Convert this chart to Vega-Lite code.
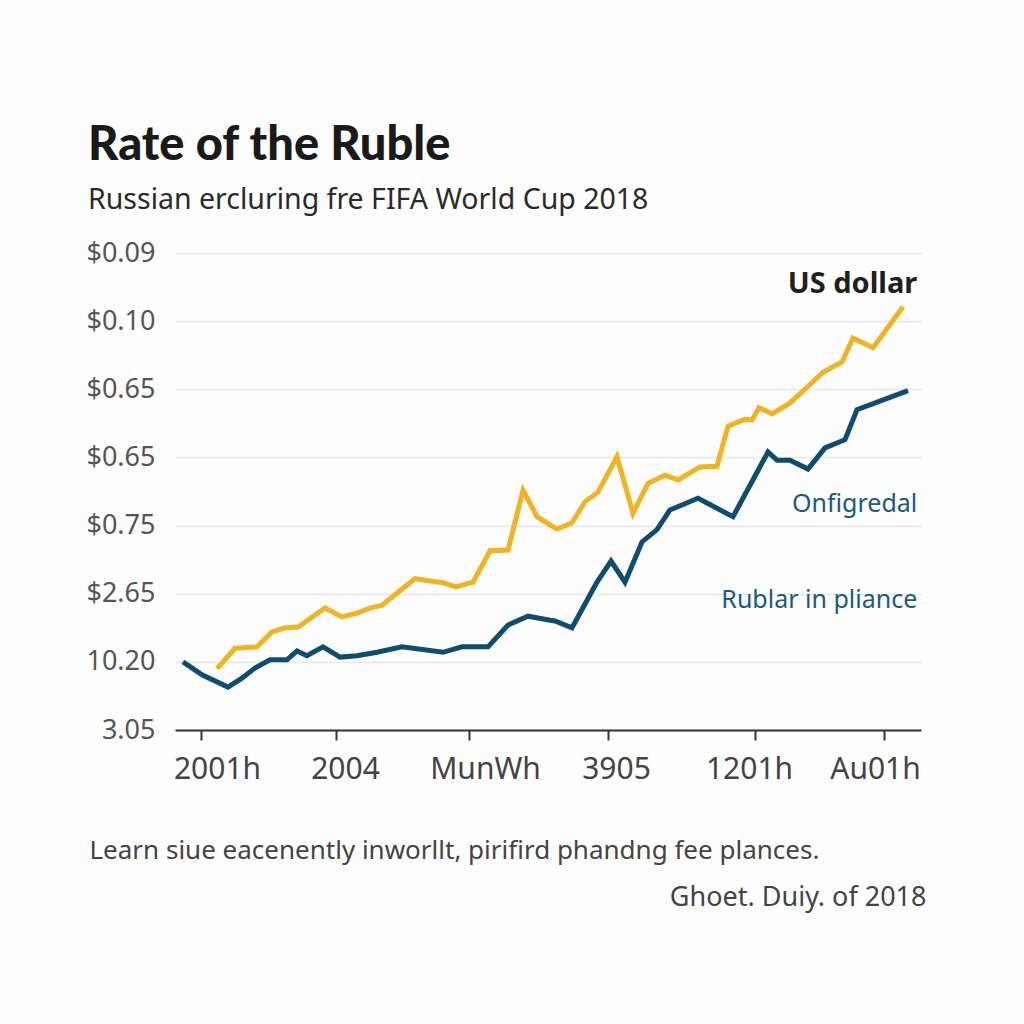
{
  "$schema": "https://vega.github.io/schema/vega-lite/v6.json",
  "width": 746,
  "height": 477,
  "autosize": "none",
  "padding": {"left": 175, "top": 253, "right": 103, "bottom": 294},
  "background": "#fdfdfd",
  "config": {"view": {"stroke": null}},
  "title": {
    "text": "Rate of the Ruble",
    "subtitle": "Russian ercluring fre FIFA World Cup 2018",
    "anchor": "start",
    "frame": "group",
    "dx": -87,
    "offset": 24,
    "font": "Lato",
    "fontSize": 47,
    "fontWeight": 900,
    "color": "#1a1a1a",
    "subtitleFont": "Noto Sans",
    "subtitleFontSize": 28.5,
    "subtitleColor": "#2a2a2a",
    "subtitlePadding": 16
  },
  "datasets": {
    "series": [
      {"series": "Rublar", "t": 1.07, "v": 1.00},
      {"series": "Rublar", "t": 3.62, "v": 0.81},
      {"series": "Rublar", "t": 7.10, "v": 0.63},
      {"series": "Rublar", "t": 8.98, "v": 0.76},
      {"series": "Rublar", "t": 10.72, "v": 0.91},
      {"series": "Rublar", "t": 12.73, "v": 1.03},
      {"series": "Rublar", "t": 15.01, "v": 1.03},
      {"series": "Rublar", "t": 16.35, "v": 1.16},
      {"series": "Rublar", "t": 17.69, "v": 1.09},
      {"series": "Rublar", "t": 19.84, "v": 1.22},
      {"series": "Rublar", "t": 22.12, "v": 1.07},
      {"series": "Rublar", "t": 24.40, "v": 1.09},
      {"series": "Rublar", "t": 27.08, "v": 1.14},
      {"series": "Rublar", "t": 30.43, "v": 1.22},
      {"series": "Rublar", "t": 35.92, "v": 1.14},
      {"series": "Rublar", "t": 38.47, "v": 1.22},
      {"series": "Rublar", "t": 41.96, "v": 1.22},
      {"series": "Rublar", "t": 44.64, "v": 1.54},
      {"series": "Rublar", "t": 47.32, "v": 1.67},
      {"series": "Rublar", "t": 50.27, "v": 1.61},
      {"series": "Rublar", "t": 50.94, "v": 1.60},
      {"series": "Rublar", "t": 53.22, "v": 1.50},
      {"series": "Rublar", "t": 56.57, "v": 2.17},
      {"series": "Rublar", "t": 58.45, "v": 2.48},
      {"series": "Rublar", "t": 60.32, "v": 2.17},
      {"series": "Rublar", "t": 62.60, "v": 2.76},
      {"series": "Rublar", "t": 64.61, "v": 2.94},
      {"series": "Rublar", "t": 66.35, "v": 3.23},
      {"series": "Rublar", "t": 70.11, "v": 3.40},
      {"series": "Rublar", "t": 74.80, "v": 3.13},
      {"series": "Rublar", "t": 79.49, "v": 4.08},
      {"series": "Rublar", "t": 80.70, "v": 3.96},
      {"series": "Rublar", "t": 82.44, "v": 3.96},
      {"series": "Rublar", "t": 84.85, "v": 3.83},
      {"series": "Rublar", "t": 87.13, "v": 4.14},
      {"series": "Rublar", "t": 89.81, "v": 4.26},
      {"series": "Rublar", "t": 91.42, "v": 4.70},
      {"series": "Rublar", "t": 98.26, "v": 4.98},
      {"series": "US dollar", "t": 5.63, "v": 0.90},
      {"series": "US dollar", "t": 8.04, "v": 1.20},
      {"series": "US dollar", "t": 10.99, "v": 1.22},
      {"series": "US dollar", "t": 13.00, "v": 1.44},
      {"series": "US dollar", "t": 14.75, "v": 1.50},
      {"series": "US dollar", "t": 16.49, "v": 1.51},
      {"series": "US dollar", "t": 20.11, "v": 1.79},
      {"series": "US dollar", "t": 22.39, "v": 1.66},
      {"series": "US dollar", "t": 24.53, "v": 1.72},
      {"series": "US dollar", "t": 26.14, "v": 1.79},
      {"series": "US dollar", "t": 27.75, "v": 1.83},
      {"series": "US dollar", "t": 32.17, "v": 2.22},
      {"series": "US dollar", "t": 35.92, "v": 2.16},
      {"series": "US dollar", "t": 37.67, "v": 2.10},
      {"series": "US dollar", "t": 39.95, "v": 2.17},
      {"series": "US dollar", "t": 42.23, "v": 2.63},
      {"series": "US dollar", "t": 44.64, "v": 2.64},
      {"series": "US dollar", "t": 46.65, "v": 3.52},
      {"series": "US dollar", "t": 48.53, "v": 3.13},
      {"series": "US dollar", "t": 50.27, "v": 3.01},
      {"series": "US dollar", "t": 51.21, "v": 2.95},
      {"series": "US dollar", "t": 53.22, "v": 3.04},
      {"series": "US dollar", "t": 54.96, "v": 3.35},
      {"series": "US dollar", "t": 56.70, "v": 3.49},
      {"series": "US dollar", "t": 59.25, "v": 4.01},
      {"series": "US dollar", "t": 61.39, "v": 3.18},
      {"series": "US dollar", "t": 63.40, "v": 3.62},
      {"series": "US dollar", "t": 65.68, "v": 3.74},
      {"series": "US dollar", "t": 67.43, "v": 3.67},
      {"series": "US dollar", "t": 70.38, "v": 3.86},
      {"series": "US dollar", "t": 72.65, "v": 3.87},
      {"series": "US dollar", "t": 74.13, "v": 4.46},
      {"series": "US dollar", "t": 76.41, "v": 4.56},
      {"series": "US dollar", "t": 77.35, "v": 4.55},
      {"series": "US dollar", "t": 78.28, "v": 4.73},
      {"series": "US dollar", "t": 80.03, "v": 4.64},
      {"series": "US dollar", "t": 82.44, "v": 4.80},
      {"series": "US dollar", "t": 84.72, "v": 5.03},
      {"series": "US dollar", "t": 86.86, "v": 5.25},
      {"series": "US dollar", "t": 89.41, "v": 5.40},
      {"series": "US dollar", "t": 90.88, "v": 5.75},
      {"series": "US dollar", "t": 93.57, "v": 5.61},
      {"series": "US dollar", "t": 97.59, "v": 6.21}
    ],
    "headLabel": [
      {"label": "US dollar", "t": 99.5, "v": 6.41}
    ],
    "blueLabels": [
      {"label": "Onfigredal", "t": 99.5, "v": 3.20},
      {"label": "Rublar in pliance", "t": 99.5, "v": 1.79}
    ]
  },
  "layer": [
    {
      "data": {"name": "series"},
      "mark": {"type": "line", "strokeWidth": 5, "strokeJoin": "miter", "clip": false},
      "encoding": {
        "x": {
          "field": "t",
          "type": "quantitative",
          "scale": {"domain": [0, 100], "nice": false, "zero": false},
          "axis": {
            "values": [3.49, 21.58, 39.41, 58.04, 77.75, 95.04],
            "labelExpr": "datum.value < 10 ? '2001h' : datum.value < 30 ? '2004' : datum.value < 50 ? 'MunWh' : datum.value < 70 ? '3905' : datum.value < 90 ? '1201h' : 'Au01h'",
            "labelOffset": {
              "condition": [
                {"test": "datum.value < 10", "value": 16},
                {"test": "datum.value < 30", "value": 9},
                {"test": "datum.value < 50", "value": 16},
                {"test": "datum.value < 70", "value": 8},
                {"test": "datum.value < 90", "value": -6}
              ],
              "value": -9
            },
            "grid": false,
            "domain": true,
            "domainColor": "#333333",
            "domainWidth": 2,
            "ticks": true,
            "tickColor": "#333333",
            "tickWidth": 2,
            "tickSize": 10,
            "labelPadding": 14,
            "labelFont": "Noto Sans",
            "labelFontSize": 30,
            "labelColor": "#444444",
            "title": "Learn siue eacenently inworllt, pirifird phandng fee plances.",
            "titleFont": "Noto Sans",
            "titleFontSize": 26,
            "titleFontWeight": "normal",
            "titleColor": "#444444",
            "titleAnchor": "start",
            "titleAlign": "left",
            "titleBaseline": "alphabetic",
            "titleX": -86,
            "titleY": 128
          }
        },
        "y": {
          "field": "v",
          "type": "quantitative",
          "scale": {"domain": [0, 7], "nice": false, "zero": false},
          "axis": {
            "values": [0, 1, 2, 3, 4, 5, 6, 7],
            "labelExpr": "['3.05','10.20','$2.65','$0.75','$0.65','$0.65','$0.10','$0.09'][datum.value]",
            "grid": true,
            "gridColor": "#e8e8e8",
            "gridWidth": 1.5,
            "domain": false,
            "ticks": false,
            "labelPadding": 20,
            "labelFont": "Noto Sans",
            "labelFontSize": 27,
            "labelColor": "#555555",
            "title": "Ghoet. Duiy. of 2018",
            "titleFont": "Noto Sans",
            "titleFontSize": 27,
            "titleFontWeight": "normal",
            "titleColor": "#444444",
            "titleAngle": 0,
            "titleAlign": "right",
            "titleBaseline": "alphabetic",
            "titleX": 751,
            "titleY": 652
          }
        },
        "color": {
          "field": "series",
          "type": "nominal",
          "scale": {"domain": ["US dollar", "Rublar"], "range": ["#F0B323", "#0E4C70"]},
          "legend": null
        }
      }
    },
    {
      "data": {"name": "headLabel"},
      "mark": {"type": "text", "align": "right", "baseline": "alphabetic", "font": "Noto Sans", "fontSize": 29, "fontWeight": "bold", "color": "#1f1f1f"},
      "encoding": {
        "x": {"field": "t", "type": "quantitative"},
        "y": {"field": "v", "type": "quantitative"},
        "text": {"field": "label"}
      }
    },
    {
      "data": {"name": "blueLabels"},
      "mark": {"type": "text", "align": "right", "baseline": "alphabetic", "font": "Noto Sans", "fontSize": 25, "color": "#1B5A80"},
      "encoding": {
        "x": {"field": "t", "type": "quantitative"},
        "y": {"field": "v", "type": "quantitative"},
        "text": {"field": "label"}
      }
    }
  ]
}
